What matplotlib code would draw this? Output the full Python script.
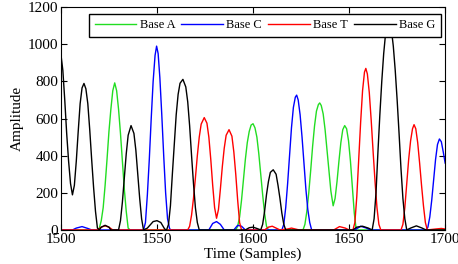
import matplotlib
matplotlib.use('Agg')
import matplotlib.pyplot as plt

# trace samples (time, amplitude)
t_a = [1500, 1519, 1520, 1521, 1522, 1523, 1524, 1525, 1526, 1527, 1528, 1529,
       1530, 1531, 1532, 1533, 1534, 1535, 1536,
       1591, 1592, 1593, 1594, 1595, 1596, 1597, 1598, 1599, 1600, 1601, 1602,
       1603, 1604, 1605, 1606, 1607, 1608,
       1626, 1627, 1628, 1629, 1630, 1631, 1632, 1633, 1634, 1634.7, 1635.5,
       1636.5, 1637.5, 1638.5, 1639.5, 1640.5, 1641.7, 1642.7, 1643.7, 1644.7,
       1645.7, 1646.7, 1647.7, 1648.7, 1649.7, 1650.7, 1651.7, 1652.7, 1653.7, 1700]
y_a = [0, 0, 10, 50, 120, 240, 380, 530, 650, 750, 792, 750,
       650, 520, 370, 220, 100, 10, 0,
       0, 20, 70, 160, 270, 380, 470, 530, 565, 572, 550, 500,
       410, 300, 190, 90, 20, 0,
       0, 30, 100, 200, 320, 450, 560, 640, 675, 684, 670,
       625, 540, 430, 320, 210, 130, 170, 260, 370,
       470, 540, 562, 545, 480, 370, 230, 90, 0, 0]

t_c = [1500, 1506, 1508, 1511, 1514, 1516, 1543, 1544, 1545, 1546, 1547, 1548,
       1549, 1549.8, 1550.6, 1551.5, 1552.5, 1553.5, 1554.5, 1555.5, 1556.5, 1557,
       1577, 1579, 1581, 1583, 1585, 1590, 1592, 1594, 1596,
       1615, 1616, 1617, 1618, 1619, 1620, 1621, 1622, 1622.7, 1623.5, 1624.5,
       1625.5, 1626.5, 1627.5, 1628.5, 1629.5, 1630.5,
       1653, 1656, 1659, 1661, 1690, 1691, 1692, 1693, 1694, 1695, 1696, 1697,
       1698, 1699, 1700]
y_c = [0, 0, 10, 18, 8, 0, 0, 40, 190, 380, 600, 800,
       940, 990, 950, 820, 620, 400, 200, 60, 10, 0,
       0, 35, 45, 30, 0, 0, 25, 20, 0,
       0, 30, 120, 250, 400, 550, 660, 715, 726, 700, 620,
       500, 360, 220, 110, 40, 0,
       0, 20, 10, 0, 0, 15, 70, 160, 270, 380, 460, 490,
       475, 420, 360]

t_t = [1500, 1519, 1521, 1523, 1525, 1527, 1566, 1567, 1568, 1569, 1570, 1571,
       1572, 1573, 1574.6, 1576, 1577, 1578, 1579, 1580, 1581, 1582, 1583, 1584,
       1585, 1586, 1587.5, 1589, 1590, 1591, 1592, 1593, 1594,
       1606, 1608, 1610, 1612, 1614, 1618, 1620, 1622, 1624, 1642, 1645, 1648,
       1650, 1652, 1653, 1654, 1655, 1656, 1657, 1658, 1658.7, 1659.5, 1660.5,
       1661.5, 1662.5, 1663.5, 1664.5, 1665.5, 1666.5,
       1677, 1678, 1679, 1680, 1681, 1682, 1683, 1683.8, 1684.7, 1685.7, 1686.7,
       1687.7, 1688.7, 1689.7, 1690.7, 1695, 1698, 1700]
y_t = [0, 0, 15, 22, 15, 0, 0, 20, 80, 170, 280, 400,
       500, 570, 605, 575, 500, 380, 240, 120, 63, 110, 220, 340,
       440, 510, 540, 505, 420, 300, 160, 40, 0,
       0, 15, 20, 10, 0, 5, 10, 5, 0, 0, 18, 10,
       0, 0, 40, 180, 380, 580, 750, 850, 870, 840, 740,
       590, 420, 260, 120, 30, 0,
       0, 30, 120, 250, 380, 480, 545, 567, 545, 470, 360,
       240, 130, 40, 0, 5, 8, 5]

t_g = [1500, 1501, 1502, 1503, 1504, 1505, 1506, 1507, 1508, 1509, 1510, 1511,
       1512, 1513, 1514, 1515, 1516, 1517, 1518, 1519, 1520,
       1521, 1523, 1525, 1526, 1530, 1531, 1532, 1533, 1534, 1535, 1536.5, 1538,
       1539, 1540, 1541, 1542, 1543, 1545, 1548, 1550, 1552, 1554, 1555,
       1556, 1557, 1558, 1559, 1560, 1561, 1562, 1563.5, 1565, 1566, 1567, 1568,
       1569, 1570, 1571, 1572,
       1596, 1598, 1600, 1602, 1604, 1605, 1606, 1607, 1608, 1609, 1610.5, 1612,
       1613, 1614, 1615, 1616, 1617,
       1652, 1654, 1657, 1660, 1662, 1663, 1664, 1665, 1666, 1667, 1668, 1669,
       1670, 1671, 1672, 1673, 1674, 1675, 1676, 1677, 1678, 1679, 1680,
       1682, 1685, 1688, 1690, 1700]
y_g = [946, 860, 700, 520, 370, 250, 189, 240, 370, 530, 680, 765,
       789, 760, 680, 540, 380, 230, 100, 10, 0,
       15, 25, 15, 0, 0, 50, 150, 280, 410, 510, 562, 520,
       430, 300, 170, 60, 0, 10, 45, 50, 40, 5, 0,
       30, 130, 300, 460, 620, 730, 790, 811, 770, 690, 560, 400,
       250, 120, 40, 0,
       0, 12, 15, 8, 0, 30, 100, 190, 260, 310, 324, 300,
       240, 170, 90, 30, 0,
       0, 15, 20, 10, 0, 60, 200, 420, 620, 800, 950, 1060,
       1110, 1120, 1080, 990, 860, 700, 520, 330, 170, 60, 0,
       10, 22, 10, 0, 0]

labels = ['Base A', 'Base C', 'Base T', 'Base G']
colors = ['#22dd22', '#0000ff', '#ff0000', '#000000']

plt.rcParams['font.family'] = ['Liberation Serif', 'DejaVu Serif']

fig = plt.figure(figsize=(4.58, 2.64), dpi=100)
ax = fig.add_axes([0.133, 0.129, 0.839, 0.844])

for (tt, yy), lab, c in zip([(t_a, y_a), (t_c, y_c), (t_t, y_t), (t_g, y_g)],
                            labels, colors):
    ax.plot(tt, yy, color=c, lw=1.0, label=lab)

ax.set_xlim(1500, 1700)
ax.set_ylim(0, 1200)
ax.set_xticks(range(1500, 1701, 50))
ax.set_yticks(range(0, 1201, 200))
ax.tick_params(direction='in', top=True, right=True, labelsize=11, length=4, pad=2)
ax.set_xlabel('Time (Samples)', fontsize=11, labelpad=1)
ax.set_ylabel('Amplitude', fontsize=11, labelpad=3)

leg = ax.legend(loc='upper right', ncol=4, fontsize=9, frameon=True, fancybox=False,
                edgecolor='black', framealpha=1, handlelength=3.3, columnspacing=0.5,
                handletextpad=0.3, borderpad=0.45, borderaxespad=0,
                bbox_to_anchor=(0.99, 0.97))
leg.get_frame().set_linewidth(1.0)

fig.savefig('out.png', dpi=100)
